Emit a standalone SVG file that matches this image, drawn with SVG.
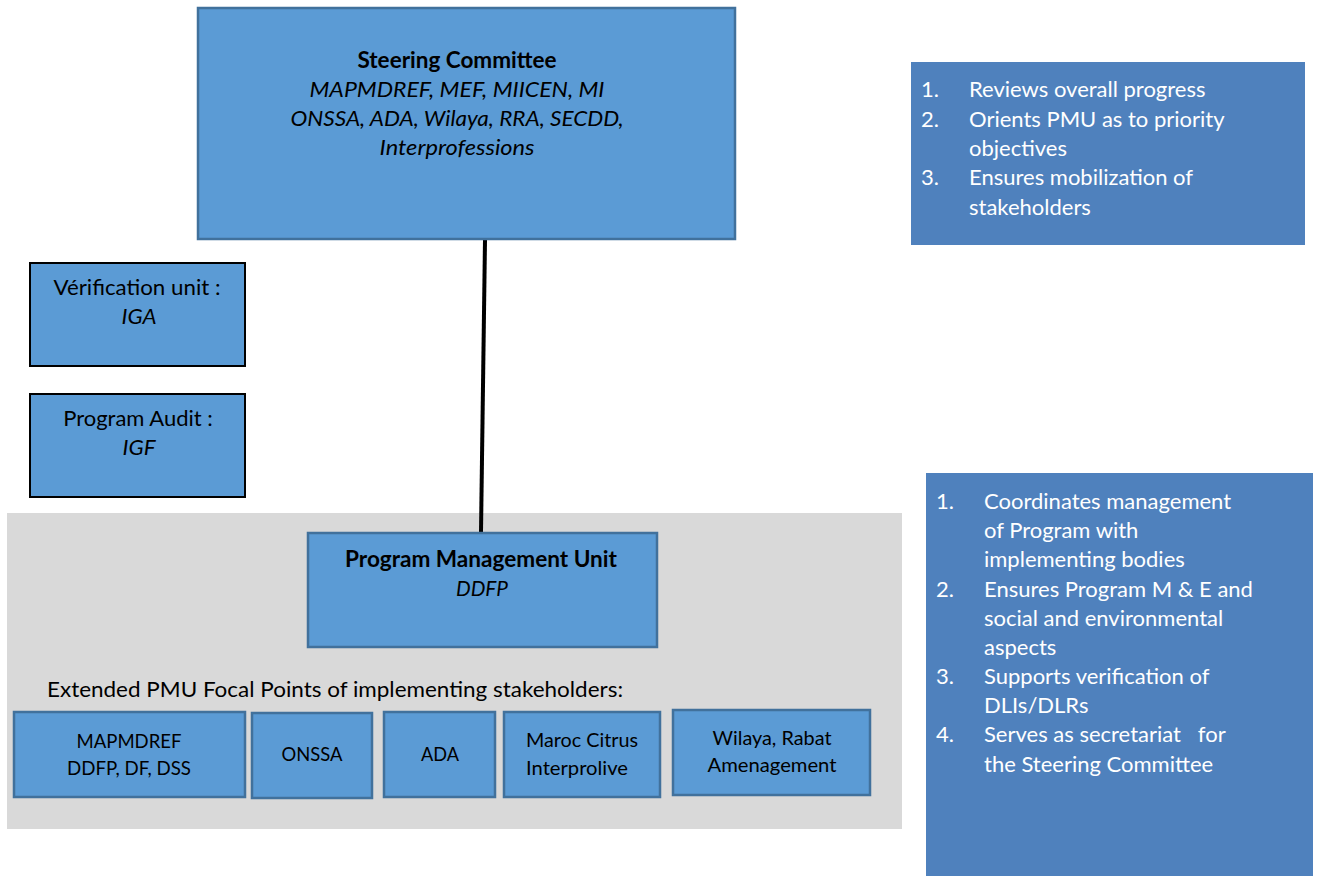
<svg xmlns="http://www.w3.org/2000/svg" width="1318" height="876" viewBox="0 0 1318 876">
<style>
text{font-family:Lato,"Open Sans","Liberation Sans",sans-serif;font-size:22px;fill:#000}
.c{text-anchor:middle}
.b{font-weight:bold}
.i{font-style:italic}
.w{fill:#fff}
.box{fill:#5B9BD5;stroke:#41719C;stroke-width:2.5}
.blk{fill:#5B9BD5;stroke:#000;stroke-width:2}
.note{fill:#4F81BD}
.sm{font-size:19px}
.cd{font-size:21px}
</style>
<rect x="0" y="0" width="1318" height="876" fill="#fff"/>
<g id="panel"><rect x="7" y="513" width="895" height="316" fill="#D9D9D9"/>
<text class="cd" x="47" y="697" textLength="576" lengthAdjust="spacingAndGlyphs">Extended PMU Focal Points of implementing stakeholders:</text></g>
<g id="connectors"><line x1="485" y1="240" x2="481" y2="532" stroke="#000" stroke-width="4"/></g>
<g id="steering"><rect class="box" x="198" y="8" width="537" height="231"/>
<text class="c b" x="457" y="68" textLength="199" lengthAdjust="spacingAndGlyphs">Steering Committee</text>
<text class="c i" x="457" y="97" textLength="295" lengthAdjust="spacingAndGlyphs">MAPMDREF, MEF, MIICEN, MI</text>
<text class="c i" x="457" y="126" textLength="333" lengthAdjust="spacingAndGlyphs">ONSSA, ADA, Wilaya, RRA, SECDD,</text>
<text class="c i" x="457" y="155" textLength="155" lengthAdjust="spacingAndGlyphs">Interprofessions</text></g>
<g id="verification"><rect class="blk" x="30" y="263" width="215" height="103"/>
<text class="c" x="137" y="295" textLength="167" lengthAdjust="spacingAndGlyphs">Vérification unit :</text>
<text class="c i" x="139" y="324" textLength="35" lengthAdjust="spacingAndGlyphs">IGA</text></g>
<g id="audit"><rect class="blk" x="30" y="394" width="215" height="103"/>
<text class="c" x="138" y="426">Program Audit :</text>
<text class="c i" x="139" y="455" textLength="33" lengthAdjust="spacingAndGlyphs">IGF</text></g>
<g id="pmu"><rect class="box" x="308" y="533" width="349" height="114"/>
<text class="c b" x="481" y="567" textLength="272" lengthAdjust="spacingAndGlyphs">Program Management Unit</text>
<text class="c i" x="482" y="596" textLength="52" lengthAdjust="spacingAndGlyphs">DDFP</text></g>
<g id="mapmdref"><rect class="box" x="14" y="712" width="231" height="85"/>
<text class="c sm" x="129" y="748" textLength="105" lengthAdjust="spacingAndGlyphs">MAPMDREF</text>
<text class="c sm" x="129" y="775" textLength="124" lengthAdjust="spacingAndGlyphs">DDFP, DF, DSS</text></g>
<g id="onssa"><rect class="box" x="252" y="713" width="120" height="85"/>
<text class="c sm" x="312" y="761" textLength="61" lengthAdjust="spacingAndGlyphs">ONSSA</text></g>
<g id="ada"><rect class="box" x="384" y="712" width="111" height="85"/>
<text class="c sm" x="440" y="761" textLength="38" lengthAdjust="spacingAndGlyphs">ADA</text></g>
<g id="maroc"><rect class="box" x="504" y="712" width="156" height="85"/>
<text class="sm" x="526" y="747" textLength="112" lengthAdjust="spacingAndGlyphs">Maroc Citrus</text>
<text class="sm" x="526" y="775" textLength="102" lengthAdjust="spacingAndGlyphs">Interprolive</text></g>
<g id="wilaya"><rect class="box" x="673" y="710" width="197" height="85"/>
<text class="c sm" x="772" y="745" textLength="119" lengthAdjust="spacingAndGlyphs">Wilaya, Rabat</text>
<text class="c sm" x="772" y="772" textLength="129" lengthAdjust="spacingAndGlyphs">Amenagement</text></g>
<g id="note1"><rect class="note" x="911" y="62" width="394" height="183"/>
<text class="w" x="921" y="97">1.</text><text class="w" x="969" y="97">Reviews overall progress</text>
<text class="w" x="921" y="127">2.</text><text class="w" x="969" y="127">Orients PMU as to priority</text>
<text class="w" x="969" y="156">objectives</text>
<text class="w" x="921" y="185">3.</text><text class="w" x="969" y="185">Ensures mobilization of</text>
<text class="w" x="969" y="215">stakeholders</text></g>
<g id="note2"><rect class="note" x="926" y="473" width="387" height="403"/>
<text class="w" x="936" y="509">1.</text><text class="w" x="984" y="509">Coordinates management</text>
<text class="w" x="984" y="538">of Program with</text>
<text class="w" x="984" y="567">implementing bodies</text>
<text class="w" x="936" y="597">2.</text><text class="w" x="984" y="597">Ensures Program M &amp; E and</text>
<text class="w" x="984" y="626">social and environmental</text>
<text class="w" x="984" y="655">aspects</text>
<text class="w" x="936" y="684">3.</text><text class="w" x="984" y="684">Supports verification of</text>
<text class="w" x="984" y="713">DLIs/DLRs</text>
<text class="w" x="936" y="742">4.</text><text class="w" x="984" y="742" xml:space="preserve">Serves as secretariat   for</text>
<text class="w" x="984" y="772">the Steering Committee</text></g>
</svg>
